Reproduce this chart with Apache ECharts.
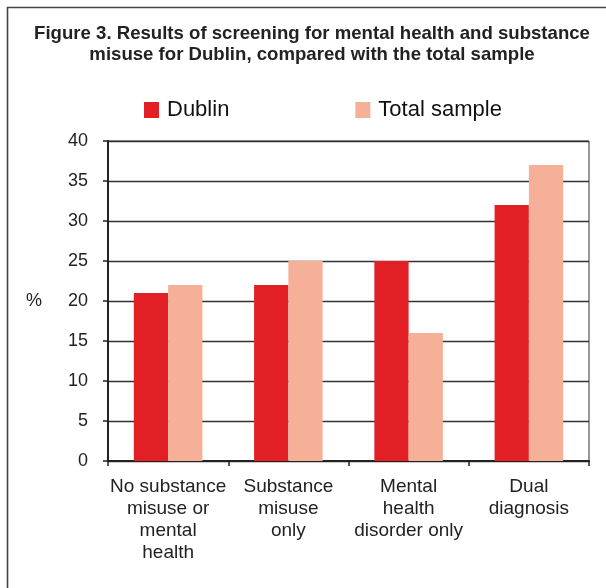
<!DOCTYPE html>
<html>
<head>
<meta charset="utf-8">
<script src="https://cdn.jsdelivr.net/npm/echarts@6/dist/echarts.min.js"></script>
<style>
  html, body { margin: 0; padding: 0; background: #fff; }
  #main { width: 606px; height: 588px; }
</style>
</head>
<body>
<div id="main"></div>
<script>
var categories = [
  "No substance\nmisuse or\nmental\nhealth",
  "Substance\nmisuse\nonly",
  "Mental\nhealth\ndisorder only",
  "Dual\ndiagnosis"
];
var dublin = [21, 22, 25, 32];
var totalSample = [22, 25, 16, 37];
var yTicks = [0, 40, 5]; // min, max, interval

var font = "Liberation Sans, Arial, sans-serif";
var chart = echarts.init(document.getElementById("main"));

chart.setOption({
  animation: false,
  backgroundColor: "#fff",
  graphic: [
    {
      type: "rect",
      shape: { x: 7.5, y: 7.5, width: 700, height: 700 },
      style: { fill: "none", stroke: "#444", lineWidth: 1.6 }
    }
  ],
  title: {
    text: "Figure 3. Results of screening for mental health and substance\nmisuse for Dublin, compared with the total sample",
    left: 307,
    top: 18,
    textAlign: "center",
    textStyle: {
      fontFamily: font,
      fontSize: 18.6,
      fontWeight: "bold",
      lineHeight: 21,
      color: "#222"
    }
  },
  legend: {
    left: 139,
    top: 94,
    itemWidth: 15,
    itemHeight: 16,
    itemGap: 126,
    icon: "rect",
    textStyle: {
      fontFamily: font,
      fontSize: 22,
      color: "#111",
      padding: [0, 0, 0, 3]
    },
    data: ["Dublin", "Total sample"]
  },
  grid: {
    left: 108,
    right: 17,
    top: 141,
    bottom: 127,
    show: true,
    borderColor: "#333",
    borderWidth: 1
  },
  xAxis: {
    type: "category",
    data: categories,
    axisLine: { lineStyle: { color: "#222", width: 2 } },
    axisTick: { show: true, length: 5, alignWithLabel: false, lineStyle: { color: "#222", width: 1.5 } },
    axisLabel: {
      interval: 0,
      margin: 15,
      fontFamily: font,
      fontSize: 19,
      lineHeight: 22,
      color: "#222",
      verticalAlign: "top"
    }
  },
  yAxis: {
    type: "value",
    min: yTicks[0],
    max: yTicks[1],
    interval: yTicks[2],
    name: "%",
    nameLocation: "middle",
    nameRotate: 0,
    nameGap: 66,
    nameTextStyle: { fontFamily: font, fontSize: 18, color: "#222", align: "right" },
    axisLine: { show: true, lineStyle: { color: "#222", width: 2 } },
    axisTick: { show: true, length: 5, lineStyle: { color: "#222", width: 1.5 } },
    axisLabel: { margin: 20, fontFamily: font, fontSize: 18, color: "#222" },
    splitLine: { show: true, lineStyle: { color: "#333", width: 1.3 } }
  },
  series: [
    {
      name: "Dublin",
      type: "bar",
      data: dublin,
      barGap: "0%",
      barCategoryGap: "43%",
      itemStyle: { color: "#E31F26" }
    },
    {
      name: "Total sample",
      type: "bar",
      data: totalSample,
      itemStyle: { color: "#F5B097" }
    }
  ]
});
</script>
</body>
</html>
